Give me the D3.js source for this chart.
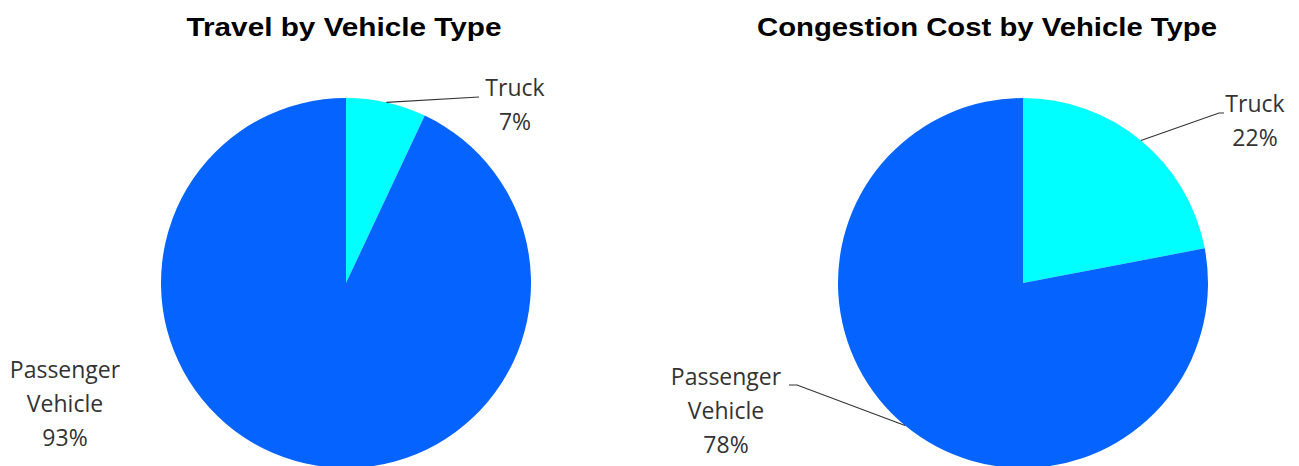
<!DOCTYPE html>
<html>
<head>
<meta charset="utf-8">
<script src="https://cdn.jsdelivr.net/npm/d3@7"></script>
<style>
  body { margin: 0; background: #fff; }
  svg { display: block; }
</style>
</head>
<body>
<div id="chart"></div>
<script>
// data
var categories = ["Truck", "Passenger Vehicle"];
var travelShare = [7, 93];
var costShare = [22, 78];
var titles = ["Travel by Vehicle Type", "Congestion Cost by Vehicle Type"];

var width = 1299, height = 466;
var radius = 185;
var color = d3.scaleOrdinal().domain(categories).range(["#00FFFF", "#0563FF"]);

var svg = d3.select("#chart").append("svg")
    .attr("width", width)
    .attr("height", height);

// layout for each pie: center, title center/width, label positions (leader = true draws a line)
var panels = [
    { values: travelShare, title: titles[0], cx: 346, cy: 283, tx: 344, tw: 315,
      labels: [ { x: 515, y: 96, leader: true, elbow: [479, 97] },
                { x: 65, y: 378, leader: false } ] },
    { values: costShare, title: titles[1], cx: 1023, cy: 283, tx: 987, tw: 460,
      labels: [ { x: 1255, y: 112, leader: true, elbow: [1219, 113], endX: 1224 },
                { x: 726, y: 385, leader: true, elbow: [797, 385], endX: 789 } ] }
];

var pie = d3.pie().sort(null).value(function(d) { return d.value; });
var arc = d3.arc().innerRadius(0).outerRadius(radius);

panels.forEach(function(p) {
    var data = categories.map(function(c, i) { return { name: c, value: p.values[i] }; });
    var arcs = pie(data);

    svg.append("text")
        .attr("x", p.tx)
        .attr("y", 36)
        .attr("text-anchor", "middle")
        .attr("textLength", p.tw)
        .attr("lengthAdjust", "spacingAndGlyphs")
        .style("font-family", "Liberation Sans, Arial, sans-serif")
        .style("font-weight", "bold")
        .style("font-size", "26px")
        .text(p.title);

    var g = svg.append("g")
        .attr("transform", "translate(" + p.cx + "," + p.cy + ")");

    g.selectAll("path")
        .data(arcs)
        .enter()
        .append("path")
        .attr("d", arc)
        .attr("fill", function(d) { return color(d.data.name); });

    arcs.forEach(function(a, i) {
        var lab = p.labels[i];
        if (lab.leader) {
            var mid = (a.startAngle + a.endAngle) / 2;
            var sx = p.cx + radius * Math.sin(mid);
            var sy = p.cy - radius * Math.cos(mid);
            var pts = [[sx, sy], lab.elbow];
            if (lab.endX !== undefined) pts.push([lab.endX, lab.elbow[1]]);
            svg.append("path")
                .attr("d", d3.line()(pts))
                .attr("fill", "none")
                .attr("stroke", "#333")
                .attr("stroke-width", 1.2);
        }
        var words = a.data.name.split(" ");
        words.push(a.data.value + "%");
        var t = svg.append("text")
            .attr("text-anchor", "middle")
            .style("font-family", "Open Sans, sans-serif")
            .style("font-size", "23px")
            .attr("fill", "#333");
        words.forEach(function(w, k) {
            t.append("tspan")
                .attr("x", lab.x)
                .attr("y", lab.y + k * 34)
                .text(w);
        });
    });
});
</script>
</body>
</html>
